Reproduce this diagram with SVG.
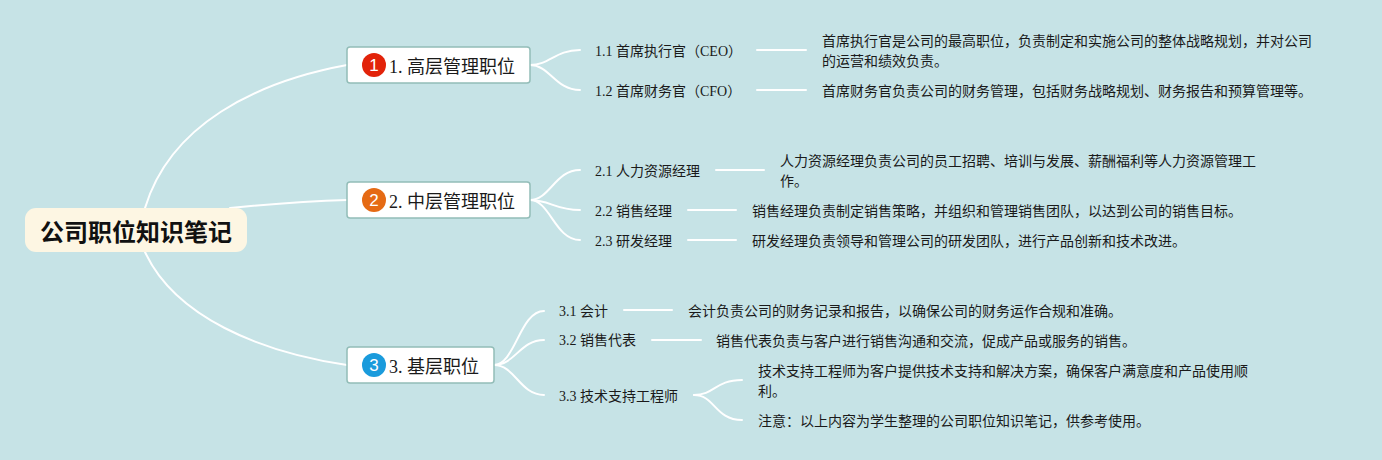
<svg xmlns="http://www.w3.org/2000/svg" width="1382" height="460" viewBox="0 0 1382 460">
<style>
text{font-family:"Liberation Serif","Noto Sans CJK SC",serif;fill:#1a1a1a}
.t{font-size:18px}.s{font-size:14px}
.box{fill:#fff;stroke:#93bdb8;stroke-width:1.5}
.c{fill:none;stroke:#fff;stroke-width:2;stroke-linecap:round}
.n{font-family:"Liberation Sans",sans-serif;font-size:17px;fill:#fff;text-anchor:middle}
</style>
<rect width="1382" height="460" fill="#c6e3e6"/>
<g id="connectors" class="c">
<path class="c" d="M145 208C170 125 255 82 347 65"/>
<path class="c" d="M230 208C270 204 310 201 347 200"/>
<path class="c" d="M145 252C175 317 260 352 347 365"/>
<path class="c" d="M530 65C550 65 555 50 580 50"/>
<path class="c" d="M530 65C550 65 555 90 580 90"/>
<path class="c" d="M530 200C550 200 555 170 580 170"/>
<path class="c" d="M530 200C550 200 555 210 580 210"/>
<path class="c" d="M530 200C550 200 555 240 580 240"/>
<path class="c" d="M494 365C515 365 520 311 544 311"/>
<path class="c" d="M494 365C515 365 520 340 544 340"/>
<path class="c" d="M494 365C515 365 520 395 544 395"/>
<path class="c" d="M694 395C715 395 715 380 742 380"/>
<path class="c" d="M694 395C715 395 715 420 742 420"/>
<path class="c" d="M757 50H806"/>
<path class="c" d="M757 90H806"/>
<path class="c" d="M716 170H764"/>
<path class="c" d="M688 210H736"/>
<path class="c" d="M688 240H736"/>
<path class="c" d="M624 310H672"/>
<path class="c" d="M652 340H701"/>
</g>
<g id="root"><rect x="25" y="208" width="222" height="44" rx="11" fill="#fdf6e3"/><text x="136" y="241" text-anchor="middle" style="font-family:'Noto Sans CJK SC',sans-serif;font-size:24px;font-weight:700;fill:#111">公司职位知识笔记</text></g>
<g id="n1"><rect class="box" x="347" y="47" width="183" height="36" rx="3"/><circle cx="374" cy="65" r="12" fill="#e2230a"/><text class="n" x="374" y="71">1</text><text class="t" x="389" y="73">1. 高层管理职位</text></g>
<g id="n2"><rect class="box" x="347" y="182" width="183" height="36" rx="3"/><circle cx="374" cy="200" r="12" fill="#e56a14"/><text class="n" x="374" y="206">2</text><text class="t" x="389" y="208">2. 中层管理职位</text></g>
<g id="n3"><rect class="box" x="347" y="347" width="147" height="36" rx="3"/><circle cx="374" cy="365" r="12" fill="#1a9bdc"/><text class="n" x="374" y="371">3</text><text class="t" x="389" y="373">3. 基层职位</text></g>
<g id="n11"><text class="s" x="595" y="56">1.1 首席执行官（CEO）</text></g>
<g id="n11d"><text class="s" x="822" y="46">首席执行官是公司的最高职位，负责制定和实施公司的整体战略规划，并对公司</text><text class="s" x="822" y="66">的运营和绩效负责。</text></g>
<g id="n12"><text class="s" x="595" y="96">1.2 首席财务官（CFO）</text></g>
<g id="n12d"><text class="s" x="822" y="96">首席财务官负责公司的财务管理，包括财务战略规划、财务报告和预算管理等。</text></g>
<g id="n21"><text class="s" x="595" y="176">2.1 人力资源经理</text></g>
<g id="n21d"><text class="s" x="780" y="166">人力资源经理负责公司的员工招聘、培训与发展、薪酬福利等人力资源管理工</text><text class="s" x="780" y="186">作。</text></g>
<g id="n22"><text class="s" x="595" y="216">2.2 销售经理</text></g>
<g id="n22d"><text class="s" x="752" y="216">销售经理负责制定销售策略，并组织和管理销售团队，以达到公司的销售目标。</text></g>
<g id="n23"><text class="s" x="595" y="246">2.3 研发经理</text></g>
<g id="n23d"><text class="s" x="752" y="246">研发经理负责领导和管理公司的研发团队，进行产品创新和技术改进。</text></g>
<g id="n31"><text class="s" x="559" y="316">3.1 会计</text></g>
<g id="n31d"><text class="s" x="688" y="316">会计负责公司的财务记录和报告，以确保公司的财务运作合规和准确。</text></g>
<g id="n32"><text class="s" x="559" y="345">3.2 销售代表</text></g>
<g id="n32d"><text class="s" x="716" y="346">销售代表负责与客户进行销售沟通和交流，促成产品或服务的销售。</text></g>
<g id="n33"><text class="s" x="559" y="401">3.3 技术支持工程师</text></g>
<g id="n33d"><text class="s" x="758" y="376">技术支持工程师为客户提供技术支持和解决方案，确保客户满意度和产品使用顺</text><text class="s" x="758" y="396">利。</text></g>
<g id="n33n"><text class="s" x="758" y="426">注意：以上内容为学生整理的公司职位知识笔记，供参考使用。</text></g>
</svg>
